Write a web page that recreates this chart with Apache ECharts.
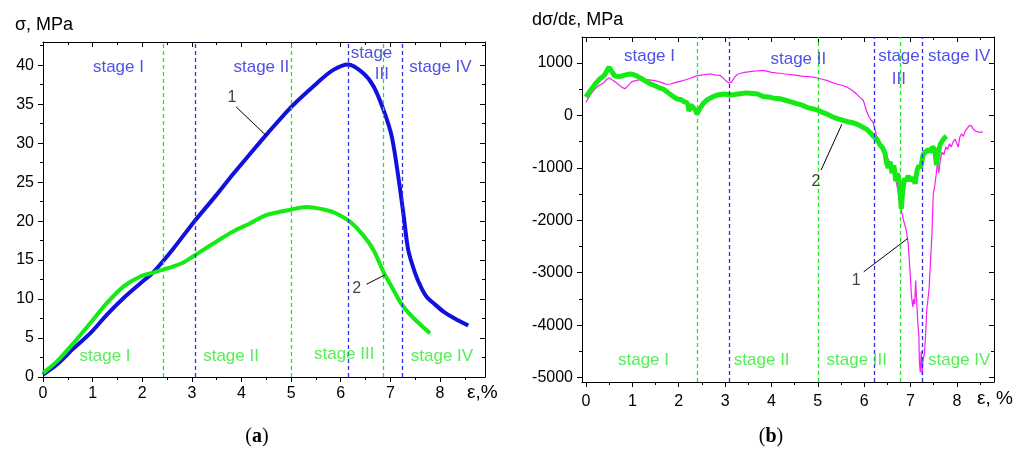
<!DOCTYPE html>
<html><head><meta charset="utf-8">
<script src="https://cdn.jsdelivr.net/npm/echarts@6/dist/echarts.min.js"></script>
<style>html,body{margin:0;padding:0;background:#fff}#c{width:1025px;height:450px;background:#fff}</style>
</head><body><div id="c"></div>
<script>
// ---- panel (a): stress-strain curves ----
const stressCurve1 = [[0,0.3],[0.28,1.6],[0.62,3.7],[0.95,5.6],[1.29,8.0],[1.62,10.1],[1.96,12.0],[2.23,13.5],[2.63,16.5],[3.03,19.8],[3.5,23.4],[3.84,26.1],[4.17,28.6],[4.49,31.0],[5.01,34.7],[5.52,37.7],[5.85,39.4],[6.15,40.1],[6.45,39.0],[6.66,37.3],[6.86,34.3],[7.03,30.8],[7.18,24.8],[7.27,20.6],[7.36,16.3],[7.5,13.3],[7.62,11.5],[7.73,10.3],[7.9,9.3],[8.07,8.4],[8.27,7.6],[8.57,6.6]];
const stressCurve2 = [[0,0.5],[0.28,2.0],[0.62,4.4],[0.95,6.9],[1.29,9.5],[1.62,11.6],[1.96,12.9],[2.23,13.4],[2.43,13.8],[2.63,14.2],[2.83,14.7],[3.03,15.5],[3.45,17.2],[3.84,18.7],[4.17,19.7],[4.51,20.8],[5.01,21.5],[5.31,21.8],[5.72,21.4],[5.9,21.0],[6.19,19.9],[6.45,18.2],[6.66,16.3],[6.86,13.5],[7.06,11.2],[7.23,9.3],[7.46,7.6],[7.8,5.6]];
// ---- panel (b): derivative curves ----
const rateCurve1 = [[0,250],[0.05,330],[0.1,400],[0.15,460],[0.23,540],[0.3,580],[0.38,620],[0.45,690],[0.5,720],[0.54,700],[0.58,670],[0.63,640],[0.7,590],[0.77,540],[0.84,510],[0.9,560],[0.98,640],[1.05,660],[1.16,680],[1.25,690],[1.35,680],[1.45,670],[1.55,650],[1.65,620],[1.74,590],[1.82,600],[1.9,620],[2.03,650],[2.15,680],[2.25,710],[2.31,730],[2.4,760],[2.5,770],[2.6,785],[2.7,790],[2.8,770],[2.89,765],[2.95,720],[3.02,660],[3.08,620],[3.14,640],[3.2,720],[3.26,780],[3.32,800],[3.42,820],[3.5,830],[3.61,845],[3.7,850],[3.82,860],[3.92,840],[4.0,820],[4.1,810],[4.18,805],[4.3,790],[4.42,780],[4.54,765],[4.65,750],[4.78,740],[4.9,730],[5.0,710],[5.1,690],[5.19,670],[5.3,630],[5.4,600],[5.5,580],[5.62,545],[5.72,490],[5.83,415],[5.9,350],[5.98,290],[6.02,180],[6.05,90],[6.1,-20],[6.15,-90],[6.19,-130],[6.23,-250],[6.27,-400],[6.32,-480],[6.36,-600],[6.41,-670],[6.46,-760],[6.51,-820],[6.55,-890],[6.6,-1000],[6.65,-1150],[6.7,-1300],[6.75,-1550],[6.8,-1810],[6.85,-2000],[6.91,-2200],[6.95,-2450],[6.99,-2980],[7.02,-3450],[7.05,-3650],[7.07,-3500],[7.09,-3600],[7.11,-3150],[7.13,-3500],[7.16,-4000],[7.18,-4200],[7.19,-4700],[7.21,-4900],[7.23,-4500],[7.25,-4950],[7.27,-4650],[7.3,-4550],[7.33,-4100],[7.35,-3700],[7.37,-3550],[7.4,-3300],[7.43,-2800],[7.46,-2300],[7.49,-1500],[7.52,-1350],[7.55,-1150],[7.58,-900],[7.61,-1100],[7.64,-850],[7.68,-700],[7.72,-750],[7.76,-600],[7.8,-650],[7.84,-540],[7.88,-600],[7.92,-500],[7.96,-450],[7.99,-480],[8.03,-600],[8.06,-420],[8.1,-350],[8.14,-400],[8.18,-300],[8.22,-280],[8.26,-200],[8.31,-190],[8.35,-260],[8.4,-300],[8.44,-280],[8.48,-320],[8.52,-300],[8.56,-320]];
const rateCurve2 = [[0,350],[0.05,420],[0.1,480],[0.15,540],[0.2,600],[0.25,650],[0.3,700],[0.35,730],[0.4,770],[0.45,850],[0.5,920],[0.53,900],[0.57,820],[0.62,750],[0.66,720],[0.72,740],[0.8,760],[0.88,780],[0.95,790],[1.02,780],[1.1,750],[1.2,700],[1.31,640],[1.4,600],[1.5,560],[1.6,520],[1.67,500],[1.75,450],[1.85,380],[1.95,320],[2.05,300],[2.12,260],[2.17,250],[2.2,200],[2.22,80],[2.24,60],[2.26,200],[2.3,220],[2.35,120],[2.39,30],[2.42,60],[2.47,150],[2.53,230],[2.6,290],[2.7,340],[2.8,380],[2.89,400],[3.0,410],[3.1,390],[3.2,400],[3.32,415],[3.46,430],[3.6,420],[3.7,410],[3.82,360],[3.95,350],[4.05,330],[4.18,320],[4.3,290],[4.42,260],[4.54,225],[4.65,200],[4.78,150],[4.9,125],[5.0,100],[5.1,60],[5.19,30],[5.3,-20],[5.42,-60],[5.55,-95],[5.65,-120],[5.75,-140],[5.83,-160],[5.92,-200],[6.0,-240],[6.05,-260],[6.12,-320],[6.2,-400],[6.27,-450],[6.34,-560],[6.4,-620],[6.45,-720],[6.48,-900],[6.52,-1000],[6.56,-880],[6.6,-1100],[6.64,-950],[6.68,-1250],[6.72,-1100],[6.76,-1300],[6.8,-1780],[6.83,-1450],[6.87,-1200],[6.91,-1250],[6.95,-1150],[7.0,-1250],[7.05,-1180],[7.1,-1300],[7.14,-1050],[7.18,-950],[7.22,-1000],[7.27,-750],[7.32,-700],[7.38,-650],[7.42,-700],[7.47,-600],[7.52,-650],[7.56,-950],[7.6,-700],[7.64,-550],[7.69,-480],[7.74,-420],[7.78,-400]];

// ---- axis ranges ----
const rangeA = {xMin:0, xMax:8.907, yMin:0, yMax:42.98};
const rangeB = {xMin:-0.086, xMax:8.8, yMin:-5084, yMax:1496};
// ---- ticks: [first, last, step] ----
const ticksA = {xMajor:[0,8,1], xMinor:[0,8.5,0.5], yMajor:[0,40,5], yMinor:[0,42.5,2.5]};
const ticksB = {xMajor:[0,8,1], xMinor:[0,8.5,0.5], yMajor:[-5000,1000,1000], yMinor:[-5000,1000,500]};

// ---- stage boundaries (strain, %) ----
const greenBoundsA = [2.42,5.01,6.85];
const blueBoundsA = [3.07,6.15,7.24];
const greenBoundsB = [2.41,5.0,6.78];
const blueBoundsB = [3.08,6.21,7.26];

// ---- stage labels: [text, strain, value] ----
const blueStagesA = [['stage I',1.52,39.7],['stage II',4.4,39.7],['stage',6.62,41.5],['III',6.83,38.85],['stage IV',8.01,39.7]];
const greenStagesA = [['stage I',1.25,2.6],['stage II',3.79,2.7],['stage III',6.07,2.9],['stage IV',8.04,2.7]];
const blueStagesB = [['stage I',1.37,1131],['stage II',4.58,1074],['stage',6.75,1131],['III',6.75,692],['stage IV',8.05,1131]];
const greenStagesB = [['stage I',1.24,-4667],['stage II',3.79,-4667],['stage III',5.84,-4667],['stage IV',8.05,-4667]];

// ---- curve number callouts: [text, labelX, labelY, x1, y1, x2, y2] ----
const calloutsA = [['1',3.81,35.8,3.89,34.66,4.49,31.03],['2',6.32,11.4,6.52,11.9,6.89,13.1]];
const calloutsB = [['2',4.96,-1266,5.07,-1043,5.52,-166],['1',5.83,-3141,5.99,-2983,6.94,-2346]];

const FONT = 'Liberation Sans, Arial, sans-serif';
const BLUE = '#1111dd', GREEN = '#16ea16', MAGENTA = '#f51ef5';
const BLUE_TXT = '#2424e0', GREEN_TXT = '#2ee82e';
const blk = () => ({color:'#000', width:1});
const fmt = v => String(v);

// panel geometry (pixels)
const GA = {left:43, top:42, width:442, height:335};
const GB = {left:582, top:37, width:412, height:345};

const grids = [], xAxes = [], yAxes = [];
function addGrid(o) { grids.push({left:o.left, top:o.top, width:o.width, height:o.height}); return grids.length - 1; }
function frameAxis(gi, pos, min, max) {
  return {type:'value', gridIndex:gi, position:pos, min:min, max:max,
    splitLine:{show:false}, axisLine:{show:true, onZero:false, lineStyle:blk()},
    axisTick:{show:false}, axisLabel:{show:false}};
}
function hidden(gi) { return {type:'value', gridIndex:gi, min:0, max:1, show:false}; }
function addMain(G, R) {
  const gi = addGrid(G);
  const xi = xAxes.length, yi = yAxes.length;
  xAxes.push(frameAxis(gi,'bottom',R.xMin,R.xMax), frameAxis(gi,'top',R.xMin,R.xMax));
  yAxes.push(frameAxis(gi,'left',R.yMin,R.yMax), frameAxis(gi,'right',R.yMin,R.yMax));
  return {xi:xi, yi:yi};
}
// tick strip: a thin grid (thickness = tick length) whose split lines act as the tick marks
function addStrip(G, R, dim, side, spec, len, labelMargin) {
  const a = spec[0], b = spec[1], step = spec[2];
  const axis = {type:'value', min:a, max:b, interval:step,
    splitLine:{show:true, lineStyle:blk()},
    axisLine:{show:false}, axisTick:{show:false},
    axisLabel:{show:labelMargin != null, formatter:fmt, color:'#000', fontSize:16, fontFamily:FONT, margin:labelMargin || 8}};
  let gi;
  if (dim === 'x') {
    const k = G.width / (R.xMax - R.xMin);
    const left = G.left + (a - R.xMin) * k, width = (b - a) * k;
    const top = side === 'bottom' ? G.top + G.height : G.top;
    gi = addGrid({left:left, width:width, top:top, height:len});
    xAxes.push(Object.assign(axis, {gridIndex:gi}));
    yAxes.push(hidden(gi));
  } else {
    const k = G.height / (R.yMax - R.yMin);
    const top = G.top + (R.yMax - b) * k, height = (b - a) * k;
    const left = side === 'left' ? G.left - len : G.left + G.width - len;
    gi = addGrid({left:left, width:len, top:top, height:height});
    yAxes.push(Object.assign(axis, {gridIndex:gi}));
    xAxes.push(hidden(gi));
  }
}

const mainA = addMain(GA, rangeA);
const mainB = addMain(GB, rangeB);
[[GA, rangeA, ticksA, 4], [GB, rangeB, ticksB, 7]].forEach(p => {
  const G = p[0], R = p[1], T = p[2];
  addStrip(G, R, 'x', 'bottom', T.xMajor, 5, p[3]);
  addStrip(G, R, 'x', 'bottom', T.xMinor, 3);
  addStrip(G, R, 'x', 'top', T.xMajor, 5);
  addStrip(G, R, 'x', 'top', T.xMinor, 3);
  addStrip(G, R, 'y', 'left', T.yMajor, 5, 4);
  addStrip(G, R, 'y', 'left', T.yMinor, 3);
  addStrip(G, R, 'y', 'right', T.yMajor, 5);
  addStrip(G, R, 'y', 'right', T.yMinor, 3);
});

function vLines(greens, blues) {
  return greens.map(x => ({xAxis:x, lineStyle:{color:'#22e622'}}))
    .concat(blues.map(x => ({xAxis:x, lineStyle:{color:'#3030f0'}})));
}
function labelData(list, color) {
  return list.map(s => ({value:[s[1], s[2]], label:{formatter:s[0], color:color}}));
}
function calloutLabels(list) {
  return list.map(c => ({value:[c[1], c[2]], label:{formatter:c[0], color:'#111', fontSize:16}}));
}
function calloutLines(list) {
  return list.map(c => [{coord:[c[3], c[4]], lineStyle:{type:'solid', color:'#000', width:1}},{coord:[c[5], c[6]]}]);
}
function annotSeries(m, greens, blues, blueStages, greenStages, callouts) {
  return {
    type:'scatter', xAxisIndex:m.xi, yAxisIndex:m.yi, symbolSize:1, silent:true, z:10,
    itemStyle:{color:'rgba(0,0,0,0)'},
    label:{show:true, position:'inside', fontSize:17, fontFamily:FONT},
    data: labelData(blueStages, BLUE_TXT).concat(labelData(greenStages, GREEN_TXT)).concat(calloutLabels(callouts)),
    markLine:{silent:true, symbol:['none','none'], label:{show:false}, animation:false,
      lineStyle:{type:[4,3], width:1.3},
      data: vLines(greens, blues).concat(calloutLines(callouts))}
  };
}

const serif = 'Liberation Serif, DejaVu Serif, serif';
function panelTag(letter, x) {
  return {type:'text', x:x, y:437, style:{text:'{n|(}{b|' + letter + '}{n|)}', align:'center', verticalAlign:'middle',
    rich:{n:{fontFamily:serif, fontSize:20, fill:'#000'}, b:{fontFamily:serif, fontSize:20, fontWeight:'bold', fill:'#000'}}}};
}

const chart = echarts.init(document.getElementById('c'));
chart.setOption({
  animation:false,
  grid: grids,
  xAxis: xAxes,
  yAxis: yAxes,
  series:[
    {type:'line', xAxisIndex:mainA.xi, yAxisIndex:mainA.yi, data:stressCurve1, showSymbol:false, smooth:0.3, lineStyle:{color:BLUE, width:4}, z:3},
    {type:'line', xAxisIndex:mainA.xi, yAxisIndex:mainA.yi, data:stressCurve2, showSymbol:false, smooth:0.3, lineStyle:{color:GREEN, width:4}, z:3},
    annotSeries(mainA, greenBoundsA, blueBoundsA, blueStagesA, greenStagesA, calloutsA),
    {type:'line', xAxisIndex:mainB.xi, yAxisIndex:mainB.yi, data:rateCurve1, showSymbol:false, lineStyle:{color:MAGENTA, width:1.2}, z:3},
    {type:'line', xAxisIndex:mainB.xi, yAxisIndex:mainB.yi, data:rateCurve2, showSymbol:false, lineStyle:{color:GREEN, width:5}, z:4},
    annotSeries(mainB, greenBoundsB, blueBoundsB, blueStagesB, greenStagesB, calloutsB)
  ],
  graphic:[
    {type:'text', x:15, y:25, style:{text:'σ, MPa', font:'18px ' + FONT, fill:'#000', verticalAlign:'middle'}},
    {type:'text', x:532, y:20, style:{text:'dσ/dε, MPa', font:'18px ' + FONT, fill:'#000', verticalAlign:'middle'}},
    {type:'text', x:467, y:393, style:{text:'ε,%', font:'19px ' + FONT, fill:'#000', verticalAlign:'middle'}},
    {type:'text', x:977, y:399, style:{text:'ε, %', font:'19px ' + FONT, fill:'#000', verticalAlign:'middle'}},
    panelTag('a', 257),
    panelTag('b', 771)
  ]
});
</script></body></html>
